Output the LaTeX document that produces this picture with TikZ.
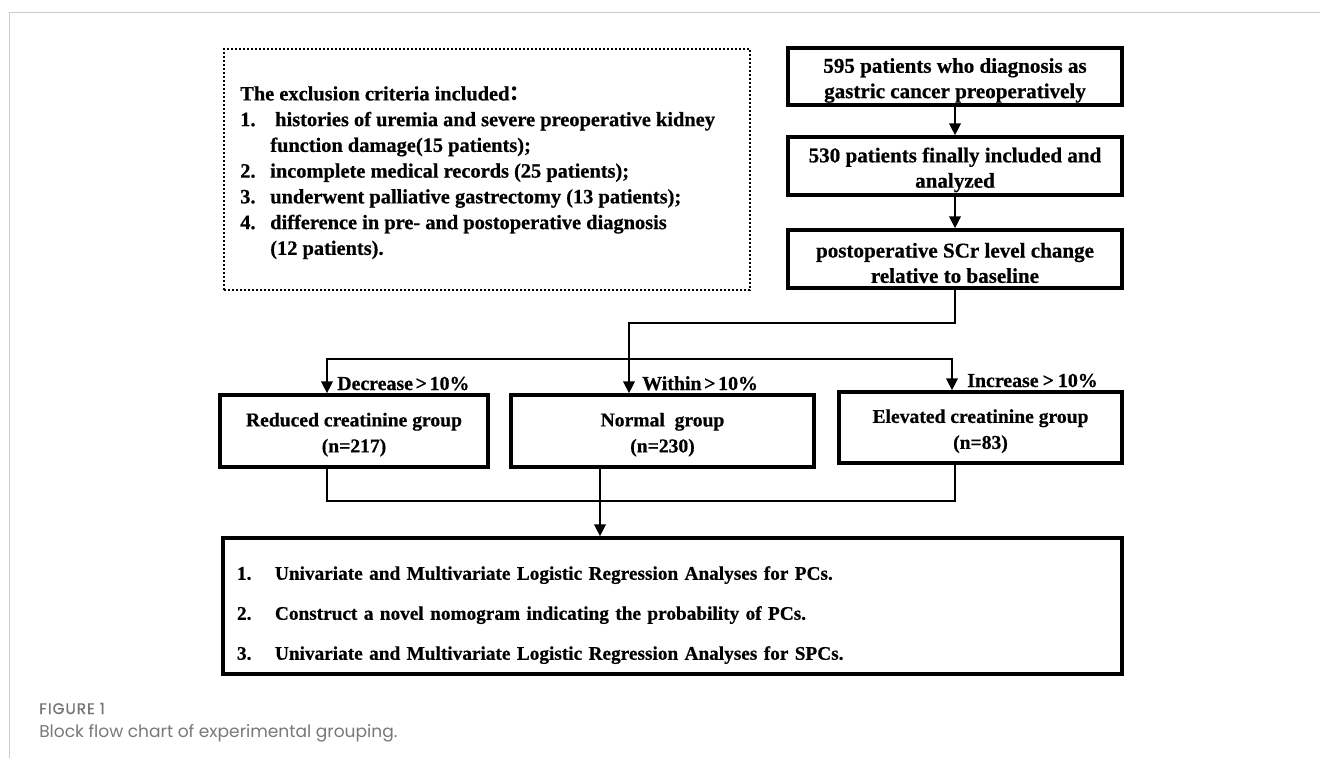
\documentclass[tikz,border=0pt]{standalone}
\usepackage{fontspec}
\setmainfont{Liberation Serif}[BoldFeatures={FakeBold=0.6}]
\newfontfamily\capfont{Poppins}
\newfontfamily\figfont{Poppins}[LetterSpace=6,FakeBold=0.8]
\newfontfamily\cjk{Noto Sans CJK SC}
\usetikzlibrary{arrows.meta,calc}
\newcommand\mybx{\fontsize{14.7}{19.5}\selectfont\bfseries}
\newcommand\topstr{\rule{0pt}{1.07em}}
\definecolor{capgray}{RGB}{120,120,120}
\definecolor{figgray}{RGB}{115,115,115}
\definecolor{framegray}{RGB}{205,205,205}
\begin{document}
\begin{tikzpicture}[x=0.75pt,y=-0.75pt,
  box/.style={draw,line width=2.5pt,align=center,inner sep=0pt,font=\mybx},
  conn/.style={line width=2pt},
  arr/.style={conn,-{Triangle[length=9pt,width=8.5pt]}},
  lbl/.style={anchor=base west,inner sep=0pt,font=\fontsize{14.9}{18}\selectfont\bfseries}]
\useasboundingbox (0,0) rectangle (1320,758);
% frame
\draw[framegray,line width=0.9pt] (1320,12.7) -- (9.5,12.7) -- (9.5,758);
% exclusion box
\node[draw,line width=2.2pt,dash pattern=on 1.5pt off 1.5pt,minimum width=394.5pt,minimum height=180.75pt,inner sep=0pt] (excl) at (487,169.5) {};
\node[anchor=north west,align=left,inner sep=0pt,font=\fontsize{15.3}{19.3}\selectfont\bfseries] (excltext) at (240,86)
{The exclusion criteria included\smash{\cjk ：}\\
\makebox[26.25pt][l]{1.}histories of uremia and severe preoperative kidney\\
\hspace*{22.5pt}function damage(15 patients);\\
\makebox[22.5pt][l]{2.}incomplete medical records (25 patients);\\
\makebox[22.5pt][l]{3.}underwent palliative gastrectomy (13 patients);\\
\makebox[22.5pt][l]{4.}difference in pre- and postoperative diagnosis\\
\hspace*{22.5pt}(12 patients).};
% main column
\node[box,font=\fontsize{15.8}{19}\selectfont\bfseries,minimum width=250.5pt,minimum height=42.75pt] (A) at (955,76.5) {\topstr 595 patients who diagnosis as\\gastric cancer preoperatively};
\node[box,font=\fontsize{15.8}{19}\selectfont\bfseries,minimum width=250.5pt,minimum height=43.5pt] (B) at (955,166) {\topstr 530 patients finally included and\\analyzed};
\node[box,font=\fontsize{15.8}{19}\selectfont\bfseries,minimum width=250.5pt,minimum height=43.5pt] (C) at (955,259) {\topstr postoperative SCr level change\\relative to baseline};
% groups
\node[box,minimum width=201pt,minimum height=54pt] (red) at (354,431) {\topstr Reduced creatinine group\\(n=217)};
\node[box,minimum width=227.25pt,minimum height=54pt] (norm) at (662.5,431) {\topstr Normal\ \ group\\(n=230)};
\node[box,minimum width=212.25pt,minimum height=53.25pt] (elev) at (980.5,427.5) {\topstr Elevated creatinine group\\(n=83)};
% bottom box
\node[box,align=left,text width=653.25pt,inner xsep=10.5pt,minimum height=102pt,font=\fontsize{14.45}{30}\selectfont\bfseries] (bot) at (672.5,606)
{\rule{0pt}{23.8pt}\makebox[28.5pt][l]{1.}Univariate and Multivariate Logistic Regression Analyses for PCs.\\
\makebox[28.5pt][l]{2.}Construct a novel nomogram indicating the probability of PCs.\\
\makebox[28.5pt][l]{3.}Univariate and Multivariate Logistic Regression Analyses for SPCs.};
% connectors
\draw[arr] (A) -- (B);
\draw[arr] (B) -- (C);
\coordinate (j1) at (629,323);
\draw[arr] (C.south) |- (j1) -- (j1 |- norm.north);
\coordinate (jl) at (327,359);
\coordinate (jr) at (952,359);
\draw[conn,{Triangle[length=9pt,width=8.5pt]}-{Triangle[length=9pt,width=8.5pt]}] (jl |- red.north) -- (jl) -- (jr) -- (jr |- elev.north);
\coordinate (jbl) at (327,501);
\coordinate (jbr) at (955,501);
\coordinate (jbm) at (600,501);
\draw[conn] (jbl |- red.south) -- (jbl) -- (jbr) -- (jbr |- elev.south);
\draw[arr] (jbm |- norm.south) -- (jbm |- bot.north);
% labels
\node[lbl] (ldec) at (337,390) {Decrease\hspace{2pt}>\hspace{2pt}10\%};
\node[lbl] (lwit) at (642,390) {Within\hspace{2pt}>\hspace{2pt}10\%};
\node[lbl] (linc) at (967,387) {Increase\hspace{3pt}>\hspace{3pt}10\%};
% caption
\node[anchor=base west,inner sep=0pt,text=figgray,font=\figfont\fontsize{11.5}{13}\selectfont] (fig) at (39,714) {FIGURE 1};
\node[anchor=base west,inner sep=0pt,text=capgray,font=\capfont\fontsize{12.8}{15}\selectfont] (cap) at (39,737) {Block flow chart of experimental grouping.};
\end{tikzpicture}
\end{document}
